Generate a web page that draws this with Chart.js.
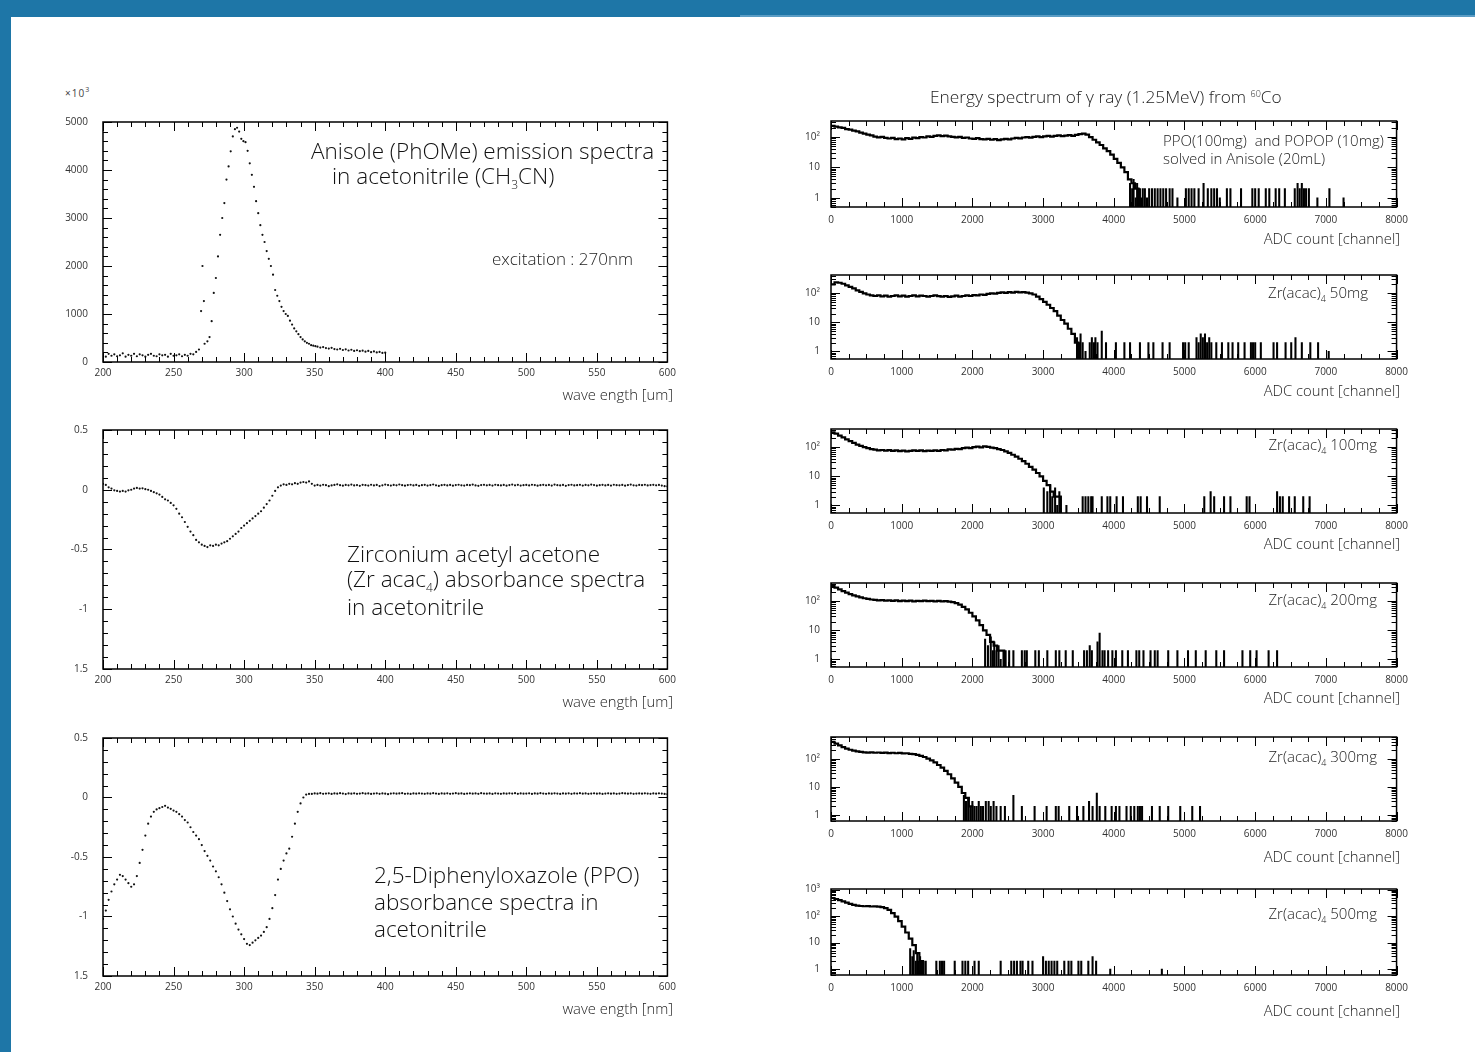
<!DOCTYPE html>
<html>
<head>
<meta charset="utf-8">
<script src="https://cdn.jsdelivr.net/npm/chart.js@4.4.1/dist/chart.umd.min.js"></script>
<style>
  body { margin: 0; width: 1475px; height: 1052px; background: #fff; position: relative; overflow: hidden; font-family: "Open Sans", sans-serif; color: #222; }
  .bandTop { position: absolute; left: 0; top: 0; width: 1475px; height: 17px; background: #1e76a7; }
  .bandRight { position: absolute; left: 740px; top: 15px; width: 735px; height: 2px; background: #5a9cc4; }
  .bandLeft { position: absolute; left: 0; top: 0; width: 11px; height: 1052px; background: #1e76a7; }
  .box { position: absolute; }
  .txt { position: absolute; white-space: nowrap; line-height: 1; transform: translateY(-50%); }
  .r { transform: translate(-100%, -50%); }
  .big { font-size: 22.5px; font-weight: 300; color: #111; }
  .lbl { font-size: 15px; font-weight: 300; color: #1a1a1a; }
  .axt { font-size: 14.8px; font-weight: 300; color: #222; }
</style>
</head>
<body>
<div class="bandTop"></div>
<div class="bandRight"></div>
<div class="bandLeft"></div>

<div class="box" style="left:40px;top:101px;width:641px;height:291px"><canvas id="anisole"></canvas></div>
<div class="box" style="left:40px;top:409px;width:641px;height:290px"><canvas id="zrAbs"></canvas></div>
<div class="box" style="left:40px;top:717px;width:641px;height:289px"><canvas id="ppoAbs"></canvas></div>

<div class="box" style="left:781px;top:104px;width:634px;height:133px"><canvas id="gPpo"></canvas></div>
<div class="box" style="left:781px;top:258px;width:634px;height:131px"><canvas id="gZr50"></canvas></div>
<div class="box" style="left:781px;top:412px;width:634px;height:131px"><canvas id="gZr100"></canvas></div>
<div class="box" style="left:781px;top:566px;width:634px;height:131px"><canvas id="gZr200"></canvas></div>
<div class="box" style="left:781px;top:720px;width:634px;height:131px"><canvas id="gZr300"></canvas></div>
<div class="box" style="left:781px;top:872px;width:634px;height:133px"><canvas id="gZr500"></canvas></div>

<!-- left panel texts -->
<div class="txt" style="left:65px;top:92px;font-size:10px;letter-spacing:1px;color:#444">×10<sup style="font-size:7px">3</sup></div>
<div class="txt big" style="left:311px;top:151px">Anisole (PhOMe) emission spectra</div>
<div class="txt big" style="left:332px;top:178px">in acetonitrile (CH<sub style="font-size:12px">3</sub>CN)</div>
<div class="txt" style="left:492px;top:258px;font-size:17px;font-weight:300;color:#222">excitation : 270nm</div>
<div class="txt axt r" style="left:673px;top:394px">wave ength [um]</div>

<div class="txt big" style="left:347px;top:554px">Zirconium acetyl acetone</div>
<div class="txt big" style="left:347px;top:581px">(Zr acac<sub style="font-size:12px">4</sub>) absorbance spectra</div>
<div class="txt big" style="left:347px;top:607px">in acetonitrile</div>
<div class="txt axt r" style="left:673px;top:701px">wave ength [um]</div>

<div class="txt big" style="left:374px;top:875px">2,5-Diphenyloxazole (PPO)</div>
<div class="txt big" style="left:374px;top:902px">absorbance spectra in</div>
<div class="txt big" style="left:374px;top:929px">acetonitrile</div>
<div class="txt axt r" style="left:673px;top:1008px">wave ength [nm]</div>

<!-- right panel texts -->
<div class="txt" style="left:930px;top:97px;font-size:17.3px;font-weight:300;color:#222">Energy spectrum of γ ray (1.25MeV) from <sup style="font-size:9px">60</sup>Co</div>
<div class="txt lbl" style="left:1163px;top:140px">PPO(100mg)&nbsp; and POPOP (10mg)</div>
<div class="txt lbl" style="left:1163px;top:158px">solved in Anisole (20mL)</div>
<div class="txt lbl r" style="left:1368px;top:294px">Zr(acac)<sub style="font-size:9px">4</sub> 50mg</div>
<div class="txt lbl r" style="left:1377px;top:446px">Zr(acac)<sub style="font-size:9px">4</sub> 100mg</div>
<div class="txt lbl r" style="left:1377px;top:601px">Zr(acac)<sub style="font-size:9px">4</sub> 200mg</div>
<div class="txt lbl r" style="left:1377px;top:758px">Zr(acac)<sub style="font-size:9px">4</sub> 300mg</div>
<div class="txt lbl r" style="left:1377px;top:915px">Zr(acac)<sub style="font-size:9px">4</sub> 500mg</div>
<div class="txt axt r" style="left:1400px;top:238px">ADC count [channel]</div>
<div class="txt axt r" style="left:1400px;top:390px">ADC count [channel]</div>
<div class="txt axt r" style="left:1400px;top:543px">ADC count [channel]</div>
<div class="txt axt r" style="left:1400px;top:697px">ADC count [channel]</div>
<div class="txt axt r" style="left:1400px;top:856px">ADC count [channel]</div>
<div class="txt axt r" style="left:1400px;top:1010px">ADC count [channel]</div>

<script>
// ---- left column: optical spectra (wavelength nm / value) ----
const anisoleNm = [
  200, 202, 204, 206, 208, 210, 212, 214, 216, 218, 220, 222, 224, 226, 228, 230, 232,
  234, 236, 238, 240, 242, 244, 246, 248, 250, 252, 254, 256, 258, 260, 262, 264,
  266, 268, 269.5, 270.5, 271.5, 272, 274, 275.5, 277, 278.5, 280, 281.5, 283, 284.5,
  286, 287.5, 289, 290.5, 292, 293.5, 295, 296.5, 298, 299.5, 301, 302.5, 304, 305.5,
  307, 308.5, 310, 311.5, 313, 314.5, 316, 317.5, 319, 320.5, 322, 323.5, 325, 326.5,
  328, 329.5, 331, 332.5, 334, 335.5, 337, 338.5, 340, 341.5, 343, 344.5, 346, 347.5,
  349, 350.5, 352, 354, 356, 358, 360, 362, 364, 366, 368, 370, 372, 374, 376, 378,
  380, 382, 384, 386, 388, 390, 392, 394, 396, 398, 400,
];
const anisoleInt = [
  150, 110, 170, 130, 160, 120, 140, 180, 110, 150, 130, 170, 120, 160, 140, 110, 150,
  170, 130, 120, 160, 140, 150, 110, 170, 130, 140, 160, 120, 150, 130, 170, 160,
  210, 260, 1060, 2000, 1270, 380, 430, 520, 850, 1440, 1750, 2200, 2650, 3000,
  3310, 3800, 4075, 4390, 4700, 4850, 4880, 4800, 4650, 4600, 4580, 4400, 4140, 3900,
  3650, 3350, 3100, 2850, 2650, 2500, 2310, 2150, 2000, 1820, 1500, 1380, 1270, 1150,
  1060, 1000, 960, 860, 780, 700, 640, 580, 520, 470, 430, 400, 380, 350,
  340, 330, 320, 300, 310, 290, 280, 295, 270, 260, 275, 250, 265, 240, 255, 230,
  245, 225, 235, 215, 230, 205, 220, 200, 210, 190, 195,
];

// absorbance curves sampled every 2 nm from 200 to 600 nm
const absStart = 200;
const absStep = 2;
const zrAbsorbance = [
  0.05, 0.04, 0.02, 0.01, -0.005, -0.01, -0.015, -0.01, -0.015, -0.005,
  0.0, 0.01, 0.015, 0.01, 0.012, 0.005, 0.0, -0.01, -0.02, -0.03,
  -0.04, -0.06, -0.08, -0.09, -0.11, -0.13, -0.16, -0.2, -0.23, -0.27,
  -0.31, -0.35, -0.38, -0.42, -0.44, -0.46, -0.47, -0.48, -0.465, -0.47,
  -0.46, -0.465, -0.45, -0.44, -0.43, -0.41, -0.39, -0.37, -0.35, -0.32,
  -0.3, -0.28, -0.26, -0.24, -0.22, -0.2, -0.18, -0.15, -0.12, -0.09,
  -0.05, -0.01, 0.02, 0.035, 0.045, 0.04, 0.05, 0.045, 0.055, 0.05,
  0.06, 0.065, 0.06, 0.07, 0.05, 0.035,
  0.04, 0.035, 0.042, 0.038, 0.03, 0.036, 0.04, 0.045, 0.038, 0.034,
  0.04, 0.037, 0.043, 0.036, 0.039, 0.033, 0.041, 0.038, 0.035, 0.042,
  0.036, 0.04, 0.031, 0.037, 0.043, 0.039, 0.035, 0.04, 0.037, 0.044,
  0.038, 0.034, 0.039, 0.042, 0.036, 0.04, 0.033, 0.038, 0.041, 0.035,
  0.039, 0.044, 0.037, 0.032, 0.038, 0.041, 0.036, 0.04, 0.034, 0.039,
  0.042, 0.037, 0.035, 0.04, 0.038, 0.043, 0.036, 0.033, 0.039, 0.041,
  0.037, 0.04, 0.035, 0.042, 0.038, 0.036, 0.04, 0.034, 0.039, 0.043,
  0.037, 0.041, 0.035, 0.038, 0.04, 0.036, 0.042, 0.039, 0.034, 0.038,
  0.041, 0.037, 0.04, 0.035, 0.043, 0.038, 0.036, 0.04, 0.033, 0.039,
  0.042, 0.036, 0.038, 0.041, 0.035, 0.04, 0.037, 0.043, 0.039, 0.034,
  0.038, 0.041, 0.036, 0.04, 0.035, 0.042, 0.038, 0.037, 0.04, 0.034,
  0.039, 0.043, 0.037, 0.035, 0.04, 0.038, 0.042, 0.036, 0.039, 0.041,
  0.037, 0.04, 0.035, 0.03, 0.028,
];
const ppoAbsorbance = [
  -1.02, -0.95, -0.86, -0.79, -0.73, -0.69, -0.65, -0.66, -0.69, -0.72,
  -0.75, -0.73, -0.66, -0.55, -0.44, -0.32, -0.22, -0.16, -0.12, -0.1,
  -0.09, -0.08, -0.07, -0.085, -0.095, -0.11, -0.12, -0.14, -0.16, -0.19,
  -0.21, -0.25, -0.29, -0.32, -0.35, -0.4, -0.45, -0.49, -0.53, -0.58,
  -0.62, -0.67, -0.73, -0.8, -0.87, -0.94, -1.0, -1.06, -1.11, -1.15,
  -1.19, -1.23, -1.24, -1.22, -1.2, -1.18, -1.16, -1.13, -1.09, -1.02,
  -0.93, -0.82, -0.69, -0.6, -0.53, -0.47, -0.43, -0.33, -0.22, -0.12,
  -0.05, 0.0, 0.025, 0.03,
  0.03, 0.034, 0.032, 0.036, 0.031, 0.033, 0.035, 0.03, 0.034, 0.032,
  0.036, 0.033, 0.029, 0.034, 0.032, 0.035, 0.031, 0.033, 0.036, 0.032,
  0.034, 0.03, 0.033, 0.035, 0.031, 0.034, 0.032, 0.028, 0.033, 0.035,
  0.032, 0.034, 0.036, 0.031, 0.033, 0.03, 0.034, 0.032, 0.035, 0.033,
  0.031, 0.034, 0.032, 0.036, 0.033, 0.03, 0.034, 0.032, 0.035, 0.031,
  0.033, 0.036, 0.032, 0.034, 0.03, 0.033, 0.035, 0.032, 0.034, 0.031,
  0.036, 0.033, 0.032, 0.034, 0.03, 0.035, 0.033, 0.031, 0.034, 0.032,
  0.035, 0.033, 0.036, 0.031, 0.034, 0.032, 0.033, 0.035, 0.03, 0.034,
  0.032, 0.036, 0.033, 0.031, 0.034, 0.032, 0.035, 0.033, 0.03, 0.034,
  0.032, 0.035, 0.031, 0.034, 0.033, 0.036, 0.032, 0.034, 0.031, 0.033,
  0.035, 0.032, 0.034, 0.03, 0.033, 0.035, 0.032, 0.034, 0.031, 0.033,
  0.036, 0.034, 0.032, 0.035, 0.031, 0.033, 0.034, 0.032, 0.035, 0.033,
  0.031, 0.034, 0.032, 0.035, 0.033, 0.03, 0.028,
];

// ---- right column: 60Co gamma spectra, counts per 50-channel bin ----
const BIN = 50;
const ppoBins = [
  230, 215, 205, 195, 180, 172, 160, 150, 138, 128, 118, 112, 102, 96, 100, 92, 88, 93, 84, 88,
  82, 90, 86, 94, 90, 98, 95, 104, 100, 108, 112, 106, 110, 104, 100, 96, 100, 92, 95, 88,
  86, 90, 84, 82, 86, 80, 84, 78, 82, 86, 83, 88, 92, 89, 95, 98, 94, 100, 104, 98,
  104, 108, 102, 107, 112, 106, 110, 114, 108, 116, 122, 128, 118, 98, 80, 66, 54, 42, 34, 26,
  19, 14, 10, 7, 4, 3, 2,
];
const ppoSpikes = [
  [4230, 3], [4260, 2], [4280, 4], [4310, 1], [4330, 3], [4350, 2], [4370, 2], [4390, 1], [4410, 2],
  [4440, 2], [4470, 1], [4500, 2], [4540, 2], [4580, 2], [4620, 2], [4660, 2], [4700, 2], [4740, 2],
  [4790, 2], [4830, 2], [4900, 1], [5020, 2], [5060, 2], [5100, 2], [5140, 2], [5200, 2], [5270, 3],
  [5330, 2], [5380, 2], [5420, 2], [5460, 2], [5500, 1], [5600, 2], [5650, 2], [5800, 2], [5960, 2],
  [6000, 2], [6050, 2], [6150, 2], [6200, 2], [6290, 2], [6340, 2], [6420, 2], [6560, 2], [6600, 3],
  [6630, 2], [6660, 3], [6690, 2], [6720, 2], [6760, 2], [6880, 1], [7050, 2], [7250, 1],
];
const zr50Bins = [
  200, 235, 228, 210, 185, 165, 145, 125, 110, 98, 90, 84, 80, 84, 78, 82, 76, 80, 84, 78,
  82, 76, 80, 84, 78, 82, 80, 76, 80, 84, 79, 76, 80, 74, 78, 82, 76, 80, 84, 80,
  86, 84, 90, 88, 94, 98, 96, 102, 106, 102, 108, 104, 110, 106, 108, 104, 98, 90, 76, 62,
  50, 40, 31, 24, 17, 12, 9, 6, 4, 2,
];
const zr50Spikes = [
  [3480, 3], [3510, 2], [3530, 4], [3560, 2], [3600, 1], [3660, 2], [3690, 3], [3720, 2], [3740, 3],
  [3770, 2], [3830, 5], [3890, 2], [4030, 2], [4150, 2], [4230, 2], [4370, 2], [4490, 2], [4560, 2],
  [4690, 2], [4790, 2], [4980, 2], [5010, 2], [5060, 2], [5170, 3], [5200, 2], [5230, 4], [5260, 3],
  [5290, 4], [5320, 2], [5350, 3], [5380, 2], [5450, 2], [5530, 2], [5620, 2], [5680, 2], [5760, 2],
  [5850, 2], [5940, 2], [5970, 2], [6000, 2], [6080, 2], [6260, 2], [6310, 2], [6430, 2], [6510, 2],
  [6570, 3], [6660, 2], [6780, 2], [6890, 2], [7040, 1],
];
const zr100Bins = [
  320, 290, 250, 215, 185, 160, 140, 122, 110, 100, 92, 86, 82, 78, 80, 76, 79, 74, 77, 73,
  76, 72, 75, 78, 74, 77, 73, 76, 74, 78, 75, 80, 78, 84, 82, 88, 86, 92, 96, 92,
  100, 104, 98, 106, 102, 96, 92, 86, 80, 72, 64, 55, 47, 40, 33, 27, 21, 17, 13, 10,
  7, 5, 3, 2, 2,
];
const zr100Spikes = [
  [3010, 4], [3060, 3], [3100, 5], [3130, 2], [3170, 4], [3200, 1], [3230, 3], [3250, 2], [3330, 1],
  [3560, 2], [3600, 2], [3640, 2], [3680, 2], [3700, 2], [3830, 2], [3910, 2], [3950, 2], [4040, 2],
  [4130, 2], [4340, 2], [4380, 2], [4470, 2], [4650, 2], [5280, 2], [5370, 3], [5420, 2], [5560, 2],
  [5650, 2], [5880, 2], [5920, 2], [6310, 3], [6350, 2], [6390, 2], [6480, 2], [6560, 2], [6680, 2],
  [6770, 2],
];
const zr200Bins = [
  330, 290, 255, 220, 195, 175, 158, 145, 135, 126, 120, 114, 110, 106, 109, 104, 107, 102, 106, 101,
  104, 100, 104, 99, 103, 100, 104, 100, 103, 99, 102, 98, 101, 96, 92, 86, 76, 64, 52, 40,
  30, 22, 15, 10, 7, 4, 3, 2, 2,
];
const zr200Spikes = [
  [2180, 5], [2220, 3], [2260, 6], [2290, 2], [2310, 4], [2340, 2], [2370, 3], [2400, 1], [2440, 2],
  [2470, 2], [2520, 2], [2580, 2], [2700, 2], [2740, 2], [2770, 2], [2890, 2], [2940, 2], [3060, 2],
  [3180, 2], [3230, 2], [3320, 2], [3420, 2], [3580, 2], [3620, 2], [3660, 3], [3690, 2], [3770, 4],
  [3800, 8], [3840, 2], [3870, 2], [3920, 2], [3980, 2], [4030, 2], [4120, 2], [4200, 2], [4320, 2],
  [4360, 2], [4420, 2], [4520, 2], [4580, 2], [4620, 2], [4770, 2], [4900, 2], [5050, 2], [5160, 2],
  [5300, 2], [5450, 2], [5560, 2], [5820, 2], [5930, 2], [6020, 2], [6190, 2], [6310, 2],
];
const zr300Bins = [
  400, 350, 300, 260, 230, 210, 195, 185, 176, 170, 166, 170, 164, 168, 162, 166, 160, 164, 158, 162,
  156, 158, 150, 146, 138, 128, 116, 102, 88, 74, 60, 48, 37, 28, 20, 14, 10, 6, 4, 2,
];
const zr300Spikes = [
  [1880, 5], [1910, 3], [1940, 4], [1970, 2], [2000, 3], [2030, 2], [2060, 2], [2090, 3], [2120, 2],
  [2150, 2], [2190, 3], [2230, 3], [2260, 2], [2300, 3], [2340, 2], [2400, 2], [2460, 2], [2580, 5],
  [2700, 2], [2880, 2], [3050, 2], [3180, 2], [3220, 2], [3370, 2], [3480, 2], [3570, 2], [3650, 3],
  [3700, 2], [3760, 6], [3800, 2], [3880, 2], [3970, 2], [4030, 2], [4080, 2], [4180, 2], [4240, 2],
  [4290, 2], [4340, 2], [4370, 2], [4400, 2], [4540, 2], [4650, 2], [4770, 2], [4940, 2], [5110, 2],
  [5220, 2],
];
const zr500Bins = [
  480, 440, 400, 360, 320, 290, 265, 250, 240, 235, 238, 230, 234, 226, 218, 200, 170, 130, 95, 64,
  40, 24, 14, 8, 4, 2,
];
const zr500Spikes = [
  [1120, 6], [1150, 3], [1170, 5], [1200, 2], [1220, 4], [1240, 2], [1260, 3], [1280, 2], [1310, 2],
  [1340, 2], [1490, 2], [1540, 2], [1570, 2], [1600, 2], [1750, 2], [1860, 2], [1900, 2], [1940, 2],
  [2030, 2], [2090, 2], [2400, 2], [2550, 2], [2590, 2], [2630, 2], [2680, 2], [2710, 2], [2790, 2],
  [2850, 2], [3000, 3], [3040, 2], [3080, 2], [3120, 2], [3160, 2], [3200, 2], [3300, 2], [3360, 2],
  [3400, 2], [3500, 2], [3540, 2], [3640, 2], [3700, 3], [3750, 2], [3950, 1], [4680, 1],
];

const tickFont = { family: "Open Sans", size: 10 };
const tickColor = "#333";
const FLOOR = 0.05; // below the log axis minimum: histogram drops to the frame

// ROOT style frame with inward ticks on all four sides
const framePlugin = {
  id: "frame",
  afterDraw(chart, args, o) {
    const { ctx, chartArea: a, scales: { x, y } } = chart;
    ctx.save();
    ctx.strokeStyle = "#000";
    ctx.lineWidth = 1;
    ctx.beginPath();
    for (let v = x.min; v <= x.max + 1e-6; v += o.xMinor) {
      const px = Math.round(x.getPixelForValue(v)) + 0.5;
      const len = Math.abs(v / o.xMajor - Math.round(v / o.xMajor)) < 1e-6 ? 9 : 5;
      ctx.moveTo(px, a.bottom); ctx.lineTo(px, a.bottom - len);
      ctx.moveTo(px, a.top); ctx.lineTo(px, a.top + len);
    }
    const yTicks = [];
    if (o.logY) {
      for (let d = -1; d <= 3; d++) {
        for (let m = 1; m <= 9; m++) {
          const v = m * Math.pow(10, d);
          if (v >= y.min && v <= y.max) yTicks.push([v, m === 1 ? 9 : 5]);
        }
      }
    } else {
      for (let v = y.min; v <= y.max + 1e-6; v += o.yMinor) {
        yTicks.push([v, Math.abs(v / o.yMajor - Math.round(v / o.yMajor)) < 1e-6 ? 9 : 5]);
      }
    }
    yTicks.forEach(([v, len]) => {
      const py = Math.round(y.getPixelForValue(v)) + 0.5;
      ctx.moveTo(a.left, py); ctx.lineTo(a.left + len, py);
      ctx.moveTo(a.right, py); ctx.lineTo(a.right - len, py);
    });
    ctx.stroke();
    ctx.lineWidth = 1.5;
    ctx.strokeRect(a.left, a.top, a.right - a.left, a.bottom - a.top);
    ctx.restore();
  },
};

function baseOptions(frame) {
  return {
    responsive: true,
    maintainAspectRatio: false,
    animation: false,
    events: [],
    layout: { padding: { top: 8, right: 14, left: 0, bottom: 0 } },
    plugins: { legend: { display: false }, tooltip: { enabled: false }, frame: frame },
  };
}

function opticalChart(id, points, yMin, yMax, yStep, yLabels) {
  const opts = baseOptions({ xMajor: 50, xMinor: 10, yMajor: yStep, yMinor: yStep / 5 });
  opts.layout.padding.right = 10;
  opts.scales = {
    x: {
      type: "linear", min: 200, max: 600,
      grid: { display: false, drawTicks: false }, border: { display: false },
      ticks: { stepSize: 50, font: tickFont, color: tickColor, padding: 5, maxRotation: 0 },
      afterFit: (s) => { s.height = 30; },
    },
    y: {
      min: yMin, max: yMax,
      grid: { display: false, drawTicks: false }, border: { display: false },
      ticks: { stepSize: yStep, font: tickFont, color: tickColor, padding: 15, callback: yLabels },
      afterFit: (s) => { s.width = 63; },
    },
  };
  return new Chart(id, {
    type: "scatter",
    data: {
      datasets: [{
        data: points,
        pointRadius: 1.1,
        pointBorderWidth: 0,
        pointBackgroundColor: "#111",
        showLine: false,
      }],
    },
    options: opts,
    plugins: [framePlugin],
  });
}

function gammaChart(id, bins, spikes, yMin, yMax, decades) {
  const end = bins.length * BIN;
  const steps = bins.map((v, i) => ({ x: i * BIN, y: v > 0 ? v : FLOOR }));
  steps.push({ x: end, y: bins[bins.length - 1] }, { x: end, y: FLOOR });
  const opts = baseOptions({ xMajor: 1000, xMinor: 250, logY: true });
  opts.scales = {
    x: {
      type: "linear", min: 0, max: 8000, offset: false,
      grid: { display: false, drawTicks: false, offset: false }, border: { display: false },
      ticks: { stepSize: 1000, font: tickFont, color: tickColor, padding: 7, maxRotation: 0, callback: (v) => String(v) },
      afterFit: (s) => { s.height = 30; },
    },
    y: {
      type: "logarithmic", min: yMin, max: yMax,
      grid: { display: false, drawTicks: false }, border: { display: false },
      afterBuildTicks: (s) => { s.ticks = decades.map((v) => ({ value: v })); },
      ticks: {
        font: tickFont, color: tickColor, padding: 11,
        callback: (v) => ({ 1: "1", 10: "10", 100: "10²", 1000: "10³" }[v] || ""),
      },
      afterFit: (s) => { s.width = 50; },
    },
  };
  return new Chart(id, {
    type: "line",
    data: {
      datasets: [
        {
          data: steps,
          stepped: "before",
          borderColor: "#000",
          borderWidth: 2.2,
          pointRadius: 0,
        },
        {
          type: "bar",
          data: spikes.map(([ch, n]) => ({ x: ch, y: n })),
          backgroundColor: "#000",
          barThickness: 1.4,
        },
      ],
    },
    options: opts,
    plugins: [framePlugin],
  });
}

const wave = (start, step, values) => values.map((v, i) => ({ x: start + i * step, y: v }));

opticalChart(
  "anisole",
  anisoleNm.map((nm, i) => ({ x: nm, y: anisoleInt[i] })),
  0, 5000, 1000, (v) => String(v)
);
const absLabel = (v) => (v === -1.5 ? "1.5" : String(v));
opticalChart("zrAbs", wave(absStart, absStep, zrAbsorbance), -1.5, 0.5, 0.5, absLabel);
opticalChart("ppoAbs", wave(absStart, absStep, ppoAbsorbance), -1.5, 0.5, 0.5, absLabel);

gammaChart("gPpo", ppoBins, ppoSpikes, 0.5, 330, [1, 10, 100]);
gammaChart("gZr50", zr50Bins, zr50Spikes, 0.55, 420, [1, 10, 100]);
gammaChart("gZr100", zr100Bins, zr100Spikes, 0.55, 420, [1, 10, 100]);
gammaChart("gZr200", zr200Bins, zr200Spikes, 0.55, 420, [1, 10, 100]);
gammaChart("gZr300", zr300Bins, zr300Spikes, 0.6, 600, [1, 10, 100]);
gammaChart("gZr500", zr500Bins, zr500Spikes, 0.6, 1050, [1, 10, 100, 1000]);
</script>
</body>
</html>
